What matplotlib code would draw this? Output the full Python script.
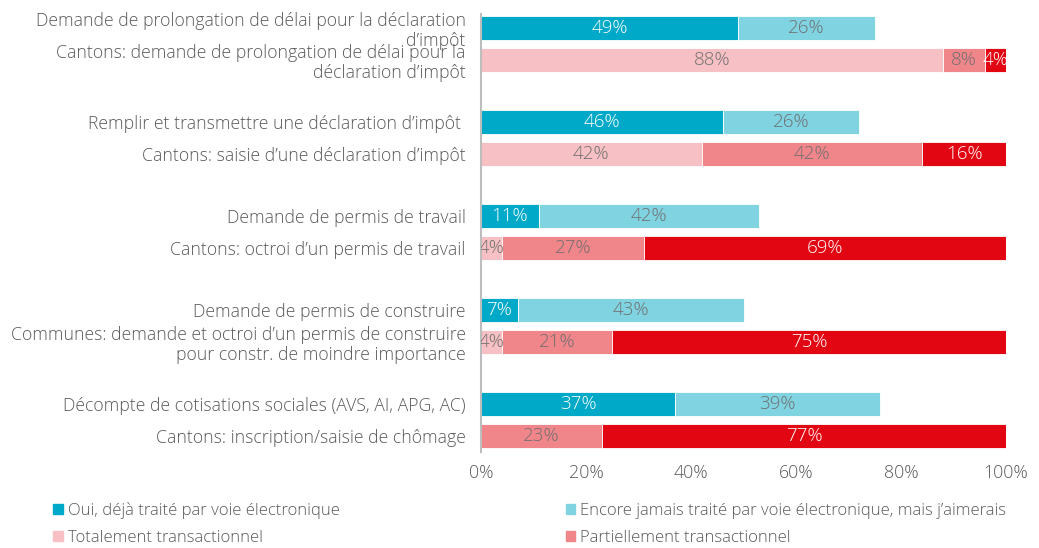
import matplotlib
matplotlib.use("Agg")
import matplotlib.pyplot as plt
from matplotlib.patches import Patch
import numpy as np

# Row labels (top to bottom)
labels = [
    "Demande de prolongation de délai pour la déclaration\nd\u2019impôt",
    "Cantons: demande de prolongation de délai pour la\ndéclaration d\u2019impôt",
    "Remplir et transmettre une déclaration d\u2019impôt ",
    "Cantons: saisie d\u2019une déclaration d\u2019impôt",
    "Demande de permis de travail",
    "Cantons: octroi d\u2019un permis de travail",
    "Demande de permis de construire",
    "Communes: demande et octroi d\u2019un permis de construire\npour constr. de moindre importance",
    "Décompte de cotisations sociales (AVS, AI, APG, AC)",
    "Cantons: inscription/saisie de chômage",
]

# Citizen rows (even index): two series
oui = [49, 46, 11, 7, 37]
encore = [26, 26, 42, 43, 39]
# Canton rows (odd index): three series
totalement = [88, 42, 4, 4, 0]
partiellement = [8, 42, 27, 21, 23]
non_trans = [4, 16, 69, 75, 77]

legend_labels = [
    "Oui, déjà traité par voie électronique",
    "Encore jamais traité par voie électronique, mais j\u2019aimerais",
    "Totalement transactionnel",
    "Partiellement transactionnel",
]
ticks = [0, 20, 40, 60, 80, 100]

C_OUI = "#00A9C7"
C_ENC = "#80D3E1"
C_TOT = "#F6C0C4"
C_PAR = "#F0858A"
C_NON = "#E20613"
GREY = "#595959"
VAL_GREY = "#707070"

plt.rcParams['font.family'] = ['Open Sans', 'DejaVu Sans']
plt.rcParams['font.weight'] = 'light'

fig = plt.figure(figsize=(10.39, 5.48), dpi=100)
ax = fig.add_axes([481 / 1039, 1 - 452 / 548, 525 / 1039, 438 / 548])

gap = 2.94
ngroups = len(oui)
y_top = np.arange(ngroups) * gap
y_bot = y_top + 1
h = 0.75


def stack(ypos, series, colors, txtcolors):
    left = np.zeros(len(ypos))
    for vals, col, tc in zip(series, colors, txtcolors):
        vals = np.array(vals, dtype=float)
        ax.barh(ypos, vals, left=left, height=h, color=col,
                edgecolor="white", linewidth=0.6)
        for y, l, v in zip(ypos, left, vals):
            if v > 0:
                ax.text(l + v / 2, y, f"{int(v)}%", ha="center", va="center",
                        fontsize=13.5, color=tc, clip_on=True)
        left += vals


stack(y_top, [oui, encore], [C_OUI, C_ENC], ["white", VAL_GREY])
stack(y_bot, [totalement, partiellement, non_trans], [C_TOT, C_PAR, C_NON],
      [VAL_GREY, VAL_GREY, "white"])

ypos = np.empty(2 * ngroups)
ypos[0::2] = y_top
ypos[1::2] = y_bot
ax.set_yticks(ypos)
ax.set_yticklabels(labels, fontsize=12.7, color=GREY, linespacing=1.15)
ax.set_ylim(y_bot[-1] + 0.5, -0.44)

ax.set_xlim(0, 100)
ax.set_xticks(ticks)
ax.set_xticklabels([f"{t}%" for t in ticks], fontsize=12.8, color=GREY)
ax.tick_params(axis="both", length=0)
ax.tick_params(axis="y", pad=11)
ax.tick_params(axis="x", pad=9)

for s in ["top", "right", "bottom"]:
    ax.spines[s].set_visible(False)
ax.spines["left"].set_color("#BDBDBD")
ax.spines["left"].set_linewidth(1.5)

handles = [Patch(color=c) for c in [C_OUI, C_TOT, C_ENC, C_PAR]]
hl = [legend_labels[0], legend_labels[2], legend_labels[1], legend_labels[3]]
fig.legend(handles, hl, ncol=2, loc="upper left", bbox_to_anchor=(0.045, 0.096),
           frameon=False, fontsize=12, handlelength=0.55, handleheight=0.55,
           handletextpad=0.3, columnspacing=13.6, labelspacing=0.68,
           labelcolor=GREY, borderaxespad=0)

fig.savefig("out.png", dpi=100)
